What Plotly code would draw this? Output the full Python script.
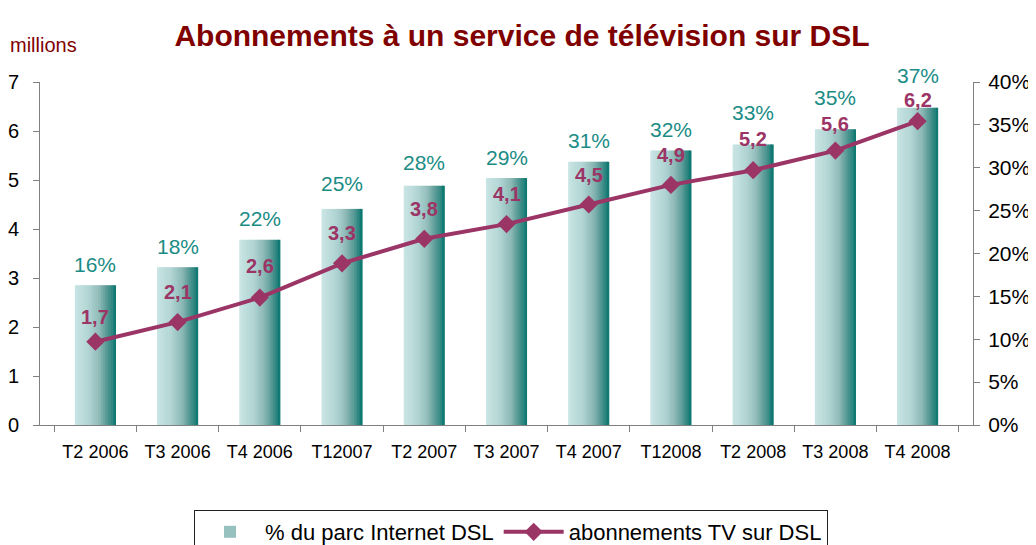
import plotly.graph_objects as go

# data
quarters = ["T2 2006", "T3 2006", "T4 2006", "T1 2007", "T2 2007", "T3 2007",
            "T4 2007", "T1 2008", "T2 2008", "T3 2008", "T4 2008"]
tick_labels = ["T2 2006", "T3 2006", "T4 2006", "T12007", "T2 2007", "T3 2007",
               "T4 2007", "T12008", "T2 2008", "T3 2008", "T4 2008"]
pct_dsl = [16.3, 18.4, 21.6, 25.2, 27.9, 28.8, 30.7, 32.0, 32.7, 34.5, 37.0]
pct_labels = ["16%", "18%", "22%", "25%", "28%", "29%", "31%", "32%", "33%", "35%", "37%"]
tv_subs = [1.7, 2.1, 2.6, 3.3, 3.8, 4.1, 4.5, 4.9, 5.2, 5.6, 6.2]

# small per-label nudges (px) so labels sit as in the reference
pct_label_lift = [0, 0, 0, 4, 2, 0, 0, 0, 11, 11, 11]
tv_label_lift = [-5, 0, 2, 0, 0, 0, 0, 0, 1, -3, -9]

FONT = "Arial, Liberation Sans, sans-serif"
TEAL_TXT = "#1a8c85"
PLUM = "#9b3566"
DARK_RED = "#800000"

# the page body adds an 8px offset, so layout is laid out 8px up/left
W, H, OFF = 1036, 545, 8


def grad(t):
    # horizontal gradient of the bars, light left -> teal right
    stops = [(0.0, (202, 229, 229)), (0.35, (176, 212, 211)), (0.6, (140, 184, 182)),
             (0.8, (80, 150, 145)), (1.0, (8, 118, 110))]
    for (t0, c0), (t1, c1) in zip(stops, stops[1:]):
        if t <= t1:
            f = (t - t0) / (t1 - t0)
            return "rgb(%d,%d,%d)" % tuple(round(a + (b - a) * f) for a, b in zip(c0, c1))
    return "rgb(%d,%d,%d)" % stops[-1][1]


fig = go.Figure()

bar_w = 0.5
n_slices = 22
step = bar_w / n_slices
for i in range(n_slices):
    fig.add_trace(go.Bar(
        x=quarters, y=pct_dsl, yaxis="y",
        width=step * 1.3 if i < n_slices - 1 else step,
        offset=-bar_w / 2 + i * step,
        marker=dict(color=grad((i + 0.5) / n_slices), line=dict(width=0)),
        name="% du parc Internet DSL",
        showlegend=(i == n_slices // 2),
        hoverinfo="skip",
    ))

fig.add_trace(go.Scatter(
    x=quarters, y=tv_subs, yaxis="y2", mode="lines+markers",
    line=dict(color=PLUM, width=4),
    marker=dict(symbol="diamond", size=14, color=PLUM),
    name="abonnements TV sur DSL",
))

annotations = []
for q, v, lab, lift in zip(quarters, pct_dsl, pct_labels, pct_label_lift):
    annotations.append(dict(x=q, y=v, xref="x", yref="y", text=lab, showarrow=False,
                            yanchor="middle", yshift=21 + lift,
                            font=dict(family=FONT, size=21, color=TEAL_TXT)))
for q, v, lift in zip(quarters, tv_subs, tv_label_lift):
    annotations.append(dict(x=q, y=v, xref="x", yref="y2",
                            text="<b>" + str(v).replace(".", ",") + "</b>",
                            showarrow=False, yanchor="middle", yshift=30 + lift,
                            font=dict(family=FONT, size=20, color=PLUM)))
annotations.append(dict(x=-0.034, y=1.108, xref="paper", yref="paper", text="millions",
                        showarrow=False, xanchor="left", yanchor="middle",
                        font=dict(family=FONT, size=20, color=DARK_RED)))

fig.update_layout(
    width=W, height=H,
    margin=dict(l=40 - OFF, r=W - 973 + OFF, t=82 - OFF, b=H - 425 + OFF, autoexpand=False),
    paper_bgcolor="white", plot_bgcolor="white",
    font=dict(family=FONT, color="black"),
    title=dict(text="<b>Abonnements à un service de télévision sur DSL</b>",
               x=(522 - OFF) / W, xref="container", xanchor="center",
               y=1 - (35 - OFF) / H, yref="container", yanchor="middle",
               font=dict(family=FONT, size=30, color=DARK_RED)),
    barmode="overlay",
    showlegend=True,
    legend=dict(orientation="h", x=(511 - OFF) / W, xref="container", xanchor="center",
                y=1 - (510 - OFF) / H, yref="container", yanchor="top",
                bordercolor="#222222", borderwidth=1, bgcolor="white",
                font=dict(family=FONT, size=22, color="black"),
                traceorder="normal", itemwidth=60),
    xaxis=dict(type="category", tickmode="array", tickvals=quarters, ticktext=tick_labels,
               showline=True, linecolor="#808080", linewidth=1,
               ticks="outside", tickson="boundaries", ticklen=6, tickcolor="#808080",
               tickfont=dict(family=FONT, size=18, color="black"),
               showgrid=False, zeroline=False, ticklabelstandoff=10),
    yaxis=dict(side="right", range=[0, 40], dtick=5, ticksuffix="%",
               showline=True, linecolor="#808080", linewidth=1,
               ticks="outside", ticklen=6, tickcolor="#808080",
               tickfont=dict(family=FONT, size=21, color="black"),
               showgrid=False, zeroline=False, ticklabelstandoff=4),
    yaxis2=dict(side="left", overlaying="y", range=[0, 7], dtick=1,
                showline=True, linecolor="#808080", linewidth=1,
                ticks="outside", ticklen=6, tickcolor="#808080",
                tickfont=dict(family=FONT, size=20, color="black"),
                showgrid=False, zeroline=False, ticklabelstandoff=10),
    annotations=annotations,
)

fig.write_html("out.html")
